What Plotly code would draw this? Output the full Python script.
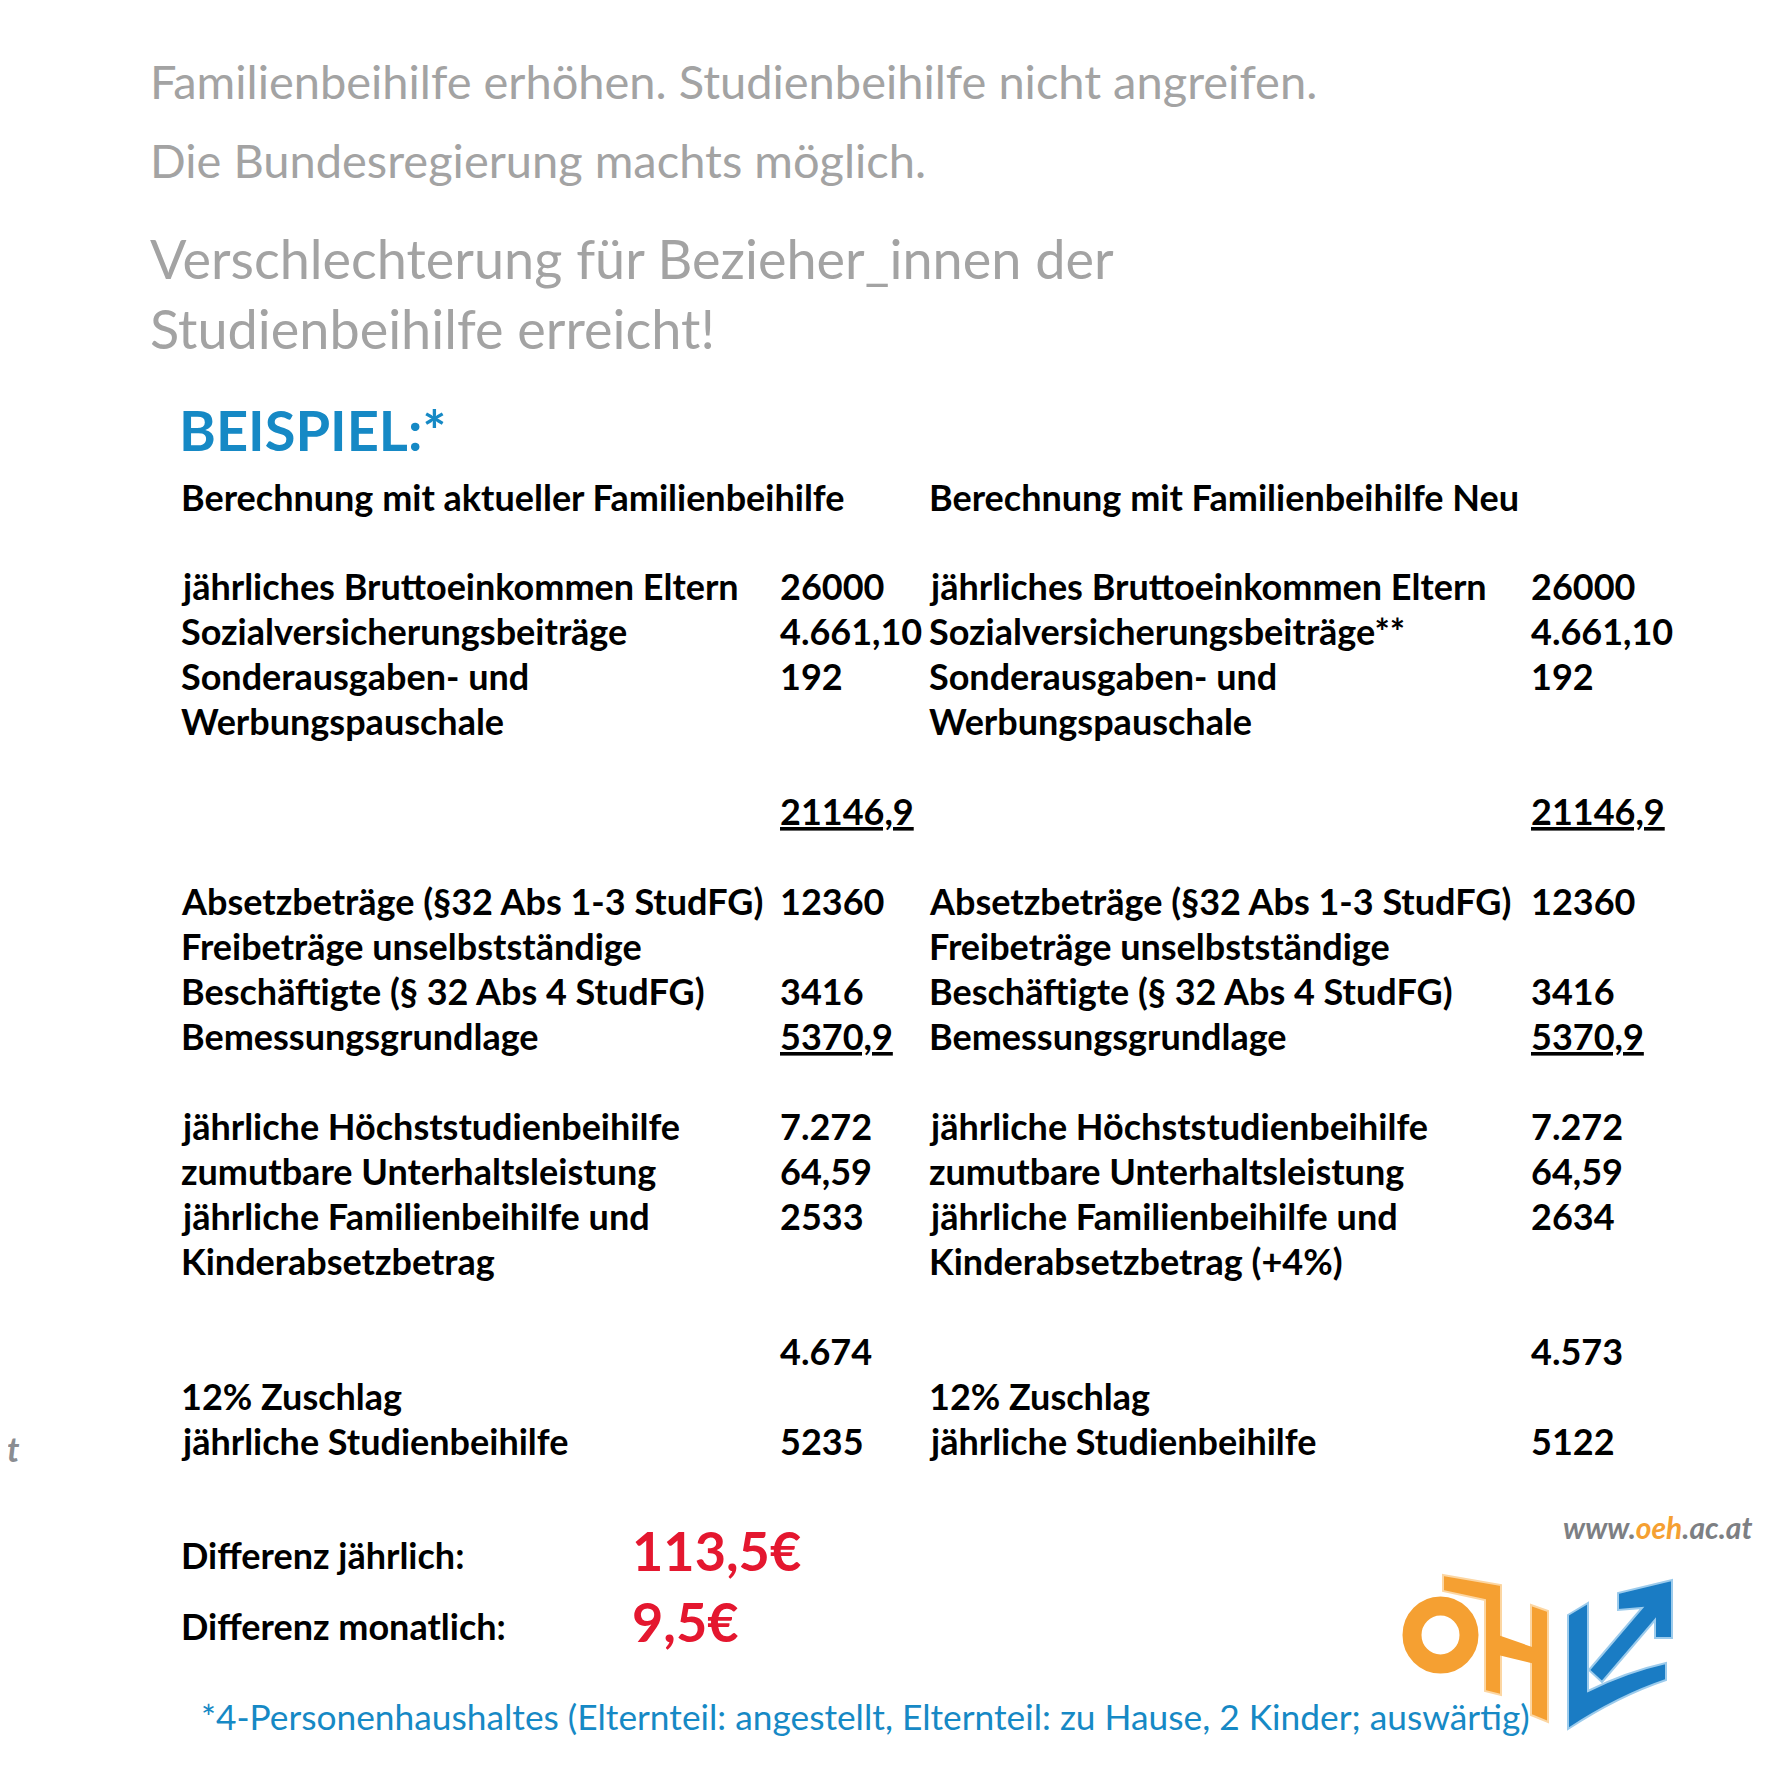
import plotly.graph_objects as go

# --- Text content / values ---
headline_lines = [
    "Familienbeihilfe erhöhen. Studienbeihilfe nicht angreifen.",
    "Die Bundesregierung machts möglich.",
]
subline_lines = [
    "Verschlechterung für Bezieher_innen der",
    "Studienbeihilfe erreicht!",
]
example_title = "BEISPIEL:*"
column_titles = ["Berechnung mit aktueller Familienbeihilfe", "Berechnung mit Familienbeihilfe Neu"]

# row slot of every label line (blank slots are gaps in the table)
label_rows = [0, 1, 2, 3, 7, 8, 9, 10, 12, 13, 14, 15, 18, 19]
labels_aktuell = [
    "jährliches Bruttoeinkommen Eltern",
    "Sozialversicherungsbeiträge",
    "Sonderausgaben- und",
    "Werbungspauschale",
    "Absetzbeträge (§32 Abs 1-3 StudFG)",
    "Freibeträge unselbstständige",
    "Beschäftigte (§ 32 Abs 4 StudFG)",
    "Bemessungsgrundlage",
    "jährliche Höchststudienbeihilfe",
    "zumutbare Unterhaltsleistung",
    "jährliche Familienbeihilfe und",
    "Kinderabsetzbetrag",
    "12% Zuschlag",
    "jährliche Studienbeihilfe",
]
labels_neu = [
    "jährliches Bruttoeinkommen Eltern",
    "Sozialversicherungsbeiträge**",
    "Sonderausgaben- und",
    "Werbungspauschale",
    "Absetzbeträge (§32 Abs 1-3 StudFG)",
    "Freibeträge unselbstständige",
    "Beschäftigte (§ 32 Abs 4 StudFG)",
    "Bemessungsgrundlage",
    "jährliche Höchststudienbeihilfe",
    "zumutbare Unterhaltsleistung",
    "jährliche Familienbeihilfe und",
    "Kinderabsetzbetrag (+4%)",
    "12% Zuschlag",
    "jährliche Studienbeihilfe",
]

value_rows = [0, 1, 2, 5, 7, 9, 10, 12, 13, 14, 17, 19]
values_aktuell = ["26000", "4.661,10", "192", "21146,9", "12360", "3416", "5370,9",
                  "7.272", "64,59", "2533", "4.674", "5235"]
values_neu = ["26000", "4.661,10", "192", "21146,9", "12360", "3416", "5370,9",
              "7.272", "64,59", "2634", "4.573", "5122"]
underlined_rows = [5, 10]

diff_labels = ["Differenz jährlich:", "Differenz monatlich:"]
diff_values = ["113,5€", "9,5€"]
footnote = "*4-Personenhaushaltes (Elternteil: angestellt, Elternteil: zu Hause, 2 Kinder; auswärtig)"

# --- Styling ---
W = H = 1772
FONT = "Lato, Roboto, sans-serif"
GREY = "#a3a3a3"
BLUE = "#1689c5"
RED = "#e4172f"
ORANGE = "#f5a032"
ORANGE_EDGE = "#fcd6a2"
ARROW_BLUE = "#1a7cc4"
ARROW_EDGE = "#9ccbec"

ROW0_Y = 578
ROW_STEP = 45.0
COL_X = [(171, 770), (919, 1521)]

ann = []


def text(x, y, s, size, color="black", bold=False, anchor="left"):
    ann.append(dict(
        x=x, y=y, xref="x", yref="y", text=f"<b>{s}</b>" if bold else s,
        showarrow=False, xanchor=anchor, yanchor="middle",
        font=dict(family=FONT, size=size, color=color),
    ))


# headline
for i, line in enumerate(headline_lines):
    text(140, 73 + i * 79, line, 47, GREY)
for i, line in enumerate(subline_lines):
    text(140, 250 + i * 70, line, 54, GREY)

text(169, 421, example_title, 56, BLUE, bold=True)

for (lx, vx), title in zip(COL_X, column_titles):
    text(lx, 489, title, 36, bold=True)

# table rows
for (lx, vx), labels, values in zip(COL_X, [labels_aktuell, labels_neu], [values_aktuell, values_neu]):
    for r, lab in zip(label_rows, labels):
        text(lx, ROW0_Y + r * ROW_STEP, lab, 36, bold=True)
    for r, val in zip(value_rows, values):
        s = f"<u>{val}</u>" if r in underlined_rows else val
        text(vx, ROW0_Y + r * ROW_STEP, s, 36, bold=True)

# differences
for i, (lab, val) in enumerate(zip(diff_labels, diff_values)):
    y = 1547 + i * 71
    text(171, y, lab, 36, bold=True)
    text(622, y - 5, val, 54, RED, bold=True)

text(191, 1708, footnote, 35.3, BLUE)

# website + stray letter on the left edge
ann.append(dict(
    x=1746, y=1519, xref="x", yref="y", showarrow=False, xanchor="right", yanchor="middle",
    text=f"<b><i>www.<span style='color:{ORANGE}'>oeh</span>.ac.at</i></b>",
    font=dict(family=FONT, size=30, color="#7d7f83"),
))
ann.append(dict(
    x=0, y=1440, xref="x", yref="y", showarrow=False, xanchor="left", yanchor="middle",
    xshift=-3, text="<b><i>t</i></b>", font=dict(family=FONT, size=34, color="#8a8d92"),
))

# --- ÖH logo (decorative shapes) ---
shapes = [
    dict(type="circle", x0=1404, x1=1461, y0=1598, y1=1656,
         line=dict(color=ORANGE, width=19)),
    dict(type="path", path="M1435,1567 L1493,1577 L1493,1687 L1477,1683 L1477,1592 L1435,1583 Z",
         fillcolor=ORANGE, line=dict(color=ORANGE_EDGE, width=2)),
    dict(type="path", path="M1523,1597 L1540,1603 L1540,1714 L1523,1707 Z",
         fillcolor=ORANGE, line=dict(color=ORANGE_EDGE, width=2)),
    dict(type="path", path="M1490,1627 L1527,1640 L1527,1656 L1490,1647 Z",
         fillcolor=ORANGE, line=dict(width=0)),
    dict(type="path",
         path="M1560,1607 L1580,1595 L1580,1683 Q1618,1664 1658,1655 L1658,1672 Q1610,1688 1560,1721 Z",
         fillcolor=ARROW_BLUE, line=dict(color=ARROW_EDGE, width=2)),
    dict(type="path",
         path="M1581,1662 L1634,1600 L1610,1602 L1610,1585 L1664,1572 L1664,1630 L1647,1630 L1647,1612 L1594,1674 Z",
         fillcolor=ARROW_BLUE, line=dict(color=ARROW_EDGE, width=2)),
]

fig = go.Figure()
fig.update_layout(
    width=W, height=H,
    margin=dict(l=0, r=0, t=0, b=0),
    paper_bgcolor="white", plot_bgcolor="white",
    xaxis=dict(range=[0, W], visible=False, fixedrange=True),
    yaxis=dict(range=[H, 0], visible=False, fixedrange=True),
    annotations=ann,
    shapes=shapes,
    showlegend=False,
)
fig.write_html("out.html")
